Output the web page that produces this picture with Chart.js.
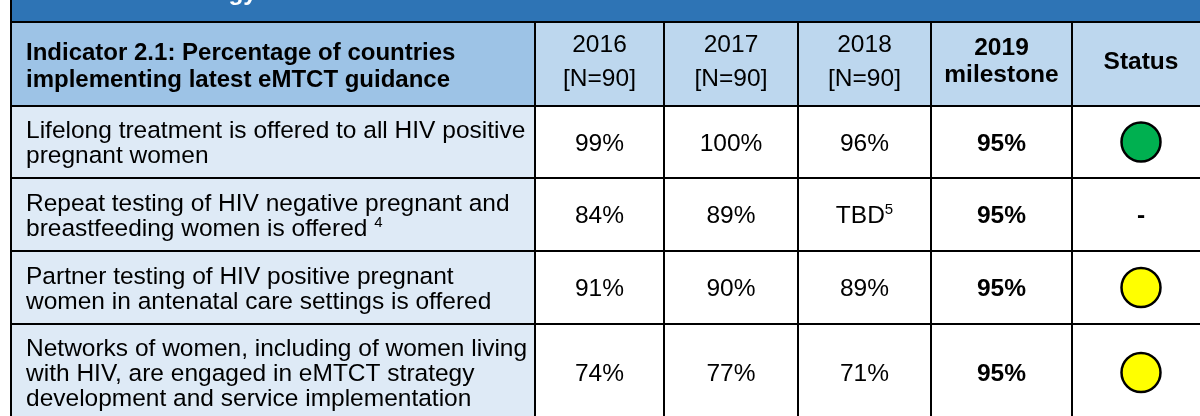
<!DOCTYPE html>
<html>
<head>
<meta charset="utf-8">
<script src="https://cdn.jsdelivr.net/npm/chart.js@4.4.0/dist/chart.umd.min.js"></script>
<style>
  html, body { margin: 0; padding: 0; background: #fff; }
  #wrap { width: 1200px; height: 416px; }
</style>
</head>
<body>
<div id="wrap"><canvas id="chart" width="1200" height="416"></canvas></div>
<script>
// --- data ---
const bandTitle = 'Strategy';
const indicatorTitle = ['Indicator 2.1: Percentage of countries', 'implementing latest eMTCT guidance'];
const years = ['2016', '2017', '2018'];
const yearN = ['[N=90]', '[N=90]', '[N=90]'];
const milestoneTitle = ['2019', 'milestone'];
const statusTitle = 'Status';

const indicators = [
  ['Lifelong treatment is offered to all HIV positive', 'pregnant women'],
  ['Repeat testing of HIV negative pregnant and', 'breastfeeding women is offered'],
  ['Partner testing of HIV positive pregnant', 'women in antenatal care settings is offered'],
  ['Networks of women, including of women living', 'with HIV, are engaged in eMTCT strategy', 'development and service implementation']
];
const indicatorNotes = [null, '4', null, null];
const pct2016 = [99, 84, 91, 74];
const pct2017 = [100, 89, 90, 77];
const pct2018 = [96, 'TBD', 89, 71];
const notes2018 = [null, '5', null, null];
const milestone2019 = [95, 95, 95, 95];
const status = ['green', null, 'yellow', 'yellow'];

// --- layout (table geometry in axis units) ---
const colEdges = [11, 535, 664, 798, 931, 1072, 1210];
const rowEdges = [22, 106, 178, 251, 324, 421];
const statusColors = { green: '#00B050', yellow: '#FFFF00' };
const FONT = '"Liberation Sans", Arial, sans-serif';
const SIZE = 24.5;
const LINE = 25;

const mid = (a, b) => (a + b) / 2;
const fmt = v => (typeof v === 'number' ? v + '%' : v);

// status points for the scatter layer
const statusPts = [];
const statusFill = [];
status.forEach((s, i) => {
  if (!s) return;
  statusPts.push({ x: mid(colEdges[5], colEdges[6]), y: mid(rowEdges[i + 1], rowEdges[i + 2]) });
  statusFill.push(statusColors[s]);
});

const tablePlugin = {
  id: 'table',
  beforeDatasetsDraw(chart) {
    const ctx = chart.ctx;
    const xs = chart.scales.x, ys = chart.scales.y;
    const X = v => xs.getPixelForValue(v);
    const Y = v => ys.getPixelForValue(v);
    const left = X(colEdges[0]), right = X(colEdges[colEdges.length - 1]);

    ctx.save();
    // top band
    ctx.fillStyle = '#2E74B5';
    ctx.fillRect(left, Y(-5), right - left, Y(rowEdges[0]) - Y(-5));
    ctx.fillStyle = '#fff';
    ctx.font = 'bold ' + SIZE + 'px ' + FONT;
    ctx.textAlign = 'right';
    ctx.textBaseline = 'alphabetic';
    ctx.fillText(bandTitle, X(257), Y(0));

    // header cells
    ctx.fillStyle = '#9DC3E6';
    ctx.fillRect(left, Y(rowEdges[0]), X(colEdges[1]) - left, Y(rowEdges[1]) - Y(rowEdges[0]));
    ctx.fillStyle = '#BDD7EE';
    ctx.fillRect(X(colEdges[1]), Y(rowEdges[0]), right - X(colEdges[1]), Y(rowEdges[1]) - Y(rowEdges[0]));

    // body first column
    ctx.fillStyle = '#DEEAF6';
    ctx.fillRect(left, Y(rowEdges[1]), X(colEdges[1]) - left, Y(rowEdges[5]) - Y(rowEdges[1]));

    // grid lines
    ctx.strokeStyle = '#000';
    ctx.lineWidth = 2;
    ctx.beginPath();
    rowEdges.forEach(r => { ctx.moveTo(left, Y(r)); ctx.lineTo(right, Y(r)); });
    ctx.moveTo(left, Y(-5)); ctx.lineTo(left, Y(rowEdges[5]));
    colEdges.slice(1).forEach(c => { ctx.moveTo(X(c), Y(rowEdges[0])); ctx.lineTo(X(c), Y(rowEdges[5])); });
    ctx.stroke();

    // header text
    ctx.fillStyle = '#000';
    ctx.textAlign = 'left';
    ctx.font = 'bold 24px ' + FONT;
    ctx.fillText(indicatorTitle[0], X(26), Y(59.5));
    ctx.fillText(indicatorTitle[1], X(26), Y(86.5));

    ctx.textAlign = 'center';
    ctx.font = SIZE + 'px ' + FONT;
    years.forEach((yr, i) => {
      const cx = X(mid(colEdges[i + 1], colEdges[i + 2]));
      ctx.fillText(yr, cx, Y(52));
      ctx.fillText(yearN[i], cx, Y(86));
    });
    ctx.font = 'bold ' + SIZE + 'px ' + FONT;
    const mcx = X(mid(colEdges[4], colEdges[5]));
    ctx.fillText(milestoneTitle[0], mcx, Y(55));
    ctx.fillText(milestoneTitle[1], mcx, Y(82));
    ctx.fillText(statusTitle, X(mid(colEdges[5], colEdges[6])), Y(69));

    // body rows
    indicators.forEach((lines, i) => {
      const cy = mid(rowEdges[i + 1], rowEdges[i + 2]);
      ctx.textBaseline = 'alphabetic';
      ctx.textAlign = 'left';
      const top = cy - (lines.length - 1) * LINE / 2;
      lines.forEach((ln, k) => {
        const by = Y(top + k * LINE + 8.5);
        ctx.font = SIZE + 'px ' + FONT;
        ctx.fillText(ln, X(26), by);
        if (k === lines.length - 1 && indicatorNotes[i]) {
          const w = ctx.measureText(ln + ' ').width;
          ctx.font = '15px ' + FONT;
          ctx.fillText(indicatorNotes[i], X(26) + w, by - 9);
        }
      });

      const base = Y(cy + 8.5);
      ctx.textAlign = 'center';
      ctx.font = SIZE + 'px ' + FONT;
      [pct2016, pct2017].forEach((arr, j) => {
        ctx.fillText(fmt(arr[i]), X(mid(colEdges[j + 1], colEdges[j + 2])), base);
      });
      // 2018 with optional footnote
      const c18 = X(mid(colEdges[3], colEdges[4]));
      const t18 = fmt(pct2018[i]);
      if (notes2018[i]) {
        const w1 = ctx.measureText(t18).width;
        ctx.font = '15px ' + FONT;
        const w2 = ctx.measureText(notes2018[i]).width;
        const x0 = c18 - (w1 + w2) / 2;
        ctx.textAlign = 'left';
        ctx.fillText(notes2018[i], x0 + w1, base - 9);
        ctx.font = SIZE + 'px ' + FONT;
        ctx.fillText(t18, x0, base);
        ctx.textAlign = 'center';
      } else {
        ctx.fillText(t18, c18, base);
      }
      ctx.font = 'bold ' + SIZE + 'px ' + FONT;
      ctx.fillText(fmt(milestone2019[i]), X(mid(colEdges[4], colEdges[5])), base);
      if (!status[i]) {
        ctx.fillText('-', X(mid(colEdges[5], colEdges[6])), base);
      }
    });
    ctx.restore();
  }
};

new Chart(document.getElementById('chart'), {
  type: 'scatter',
  data: {
    datasets: [{
      label: 'Status',
      data: statusPts,
      pointBackgroundColor: statusFill,
      pointBorderColor: '#000',
      pointBorderWidth: 2.5,
      pointRadius: 19.5,
      pointHoverRadius: 19.5,
      clip: false
    }]
  },
  options: {
    responsive: false,
    animation: false,
    events: [],
    layout: { padding: 0, autoPadding: false },
    plugins: { legend: { display: false }, tooltip: { enabled: false } },
    scales: {
      x: { type: 'linear', min: 0, max: 1200, display: false },
      y: { type: 'linear', min: 0, max: 416, reverse: true, display: false }
    }
  },
  plugins: [tablePlugin]
});
</script>
</body>
</html>
